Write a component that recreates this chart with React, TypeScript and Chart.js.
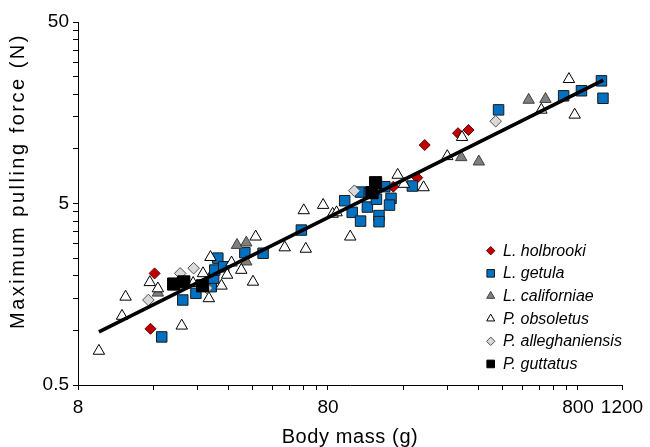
import { useEffect, useRef } from 'react';
import { Chart, registerables } from 'chart.js';

Chart.register(...registerables);

const FONT = "'Liberation Sans', Arial, Helvetica, sans-serif";

const xTitle = 'Body mass (g)';
const yTitle = 'Maximum pulling force (N)';

const seriesNames = ['L. holbrooki', 'L. getula', 'L. californiae', 'P. obsoletus', 'P. alleghaniensis', 'P. guttatus'];

const holbrookiMass = [16.2, 15.6, 146, 182, 195, 265, 292];
const holbrookiForce = [2.06, 1.02, 6.19, 6.94, 10.5, 12.2, 12.7];

const getulaMass = [17.3, 21.0, 23.7, 27.3, 27.9, 28.2, 29.0, 30.6, 37.2, 44.0, 62.6, 93.3, 100, 108, 115, 125, 128, 128, 108, 117, 135, 143, 141, 174, 385, 701, 826, 993, 1007];
const getulaForce = [0.92, 1.47, 1.60, 1.74, 1.94, 2.15, 2.50, 2.24, 2.68, 2.66, 3.57, 5.18, 4.47, 4.00, 4.78, 5.28, 4.29, 3.97, 5.78, 5.69, 6.19, 5.34, 4.90, 6.24, 16.4, 19.6, 20.9, 23.7, 19.0];

const californiaeMass = [16.7, 34.6, 37.7, 37.7, 273, 321, 508, 593];
const californiaeForce = [1.61, 2.95, 3.04, 2.39, 8.98, 8.50, 18.6, 18.8];

const obsoletusMass = [9.70, 12.0, 12.4, 15.5, 16.7, 20.8, 20.6, 23.1, 25.3, 26.7, 27.1, 30.0, 31.6, 32.9, 36.0, 40.1, 41.1, 53.7, 65.2, 64.0, 76.5, 83.5, 86.6, 98.2, 152, 161, 193, 240, 275, 571, 736, 776];
const obsoletusForce = [0.77, 1.20, 1.53, 1.84, 1.70, 1.06, 1.94, 1.82, 2.06, 1.50, 2.53, 1.76, 2.02, 2.36, 2.15, 1.85, 3.28, 2.86, 2.81, 4.58, 4.90, 4.38, 4.46, 3.28, 7.18, 6.40, 6.13, 9.10, 11.6, 16.4, 24.2, 15.4];

const alleghaniensisMass = [15.3, 20.5, 23.2, 26.2, 102, 375];
const alleghaniensisForce = [1.47, 2.06, 2.20, 1.71, 5.88, 14.2];

const guttatusMass = [19.3, 21.2, 25.2, 120, 124];
const guttatusForce = [1.80, 1.85, 1.76, 5.74, 6.51];

const fitMass = [9.7, 1010];
const fitForce = [0.98, 23.9];

const xTickValues = [8, 16, 24, 32, 40, 48, 56, 64, 72, 80, 160, 240, 320, 400, 480, 560, 640, 720, 800, 1200];
const xTickLabels = [8, 80, 800, 1200];
const yTickValues = [0.5, 1, 1.5, 2, 2.5, 3, 3.5, 4, 4.5, 5, 10, 15, 20, 25, 30, 35, 40, 45, 50];
const yTickLabels = [0.5, 5, 50];

const toPoints = (xs: number[], ys: number[]) => xs.map((x, i) => ({ x, y: ys[i] }));

const seriesData = [
  toPoints(holbrookiMass, holbrookiForce),
  toPoints(getulaMass, getulaForce),
  toPoints(californiaeMass, californiaeForce),
  toPoints(obsoletusMass, obsoletusForce),
  toPoints(alleghaniensisMass, alleghaniensisForce),
  toPoints(guttatusMass, guttatusForce),
];

const seriesStyles = [
  { pointStyle: 'rectRot', radius: 5.5, fill: '#c00000', stroke: '#5a0000', order: 6, legendSize: 4.2 },
  { pointStyle: 'rect', radius: 7.4, fill: '#0070c0', stroke: '#1a1a1a', order: 5, legendSize: 3.8 },
  { pointStyle: 'triangle', radius: 6.6, fill: '#7f7f7f', stroke: '#404040', order: 4, legendSize: 4.6 },
  { pointStyle: 'triangle', radius: 6.6, fill: '#ffffff', stroke: '#000000', order: 3, legendSize: 4.6 },
  { pointStyle: 'rectRot', radius: 5.8, fill: '#d9d9d9', stroke: '#4d4d4d', order: 2, legendSize: 4.2 },
  { pointStyle: 'rect', radius: 8.6, fill: '#000000', stroke: '#000000', order: 1, legendSize: 3.8 },
];

function drawMarker(ctx: CanvasRenderingContext2D, style: string, x: number, y: number, s: number, fill: string, stroke: string) {
  ctx.beginPath();
  if (style === 'rectRot') {
    ctx.moveTo(x, y - s);
    ctx.lineTo(x + s, y);
    ctx.lineTo(x, y + s);
    ctx.lineTo(x - s, y);
    ctx.closePath();
  } else if (style === 'rect') {
    ctx.rect(x - s, y - s, 2 * s, 2 * s);
  } else {
    const h = s * 1.5;
    const w = s * 1.732;
    ctx.moveTo(x, y - s);
    ctx.lineTo(x + w / 2, y - s + h);
    ctx.lineTo(x - w / 2, y - s + h);
    ctx.closePath();
  }
  ctx.fillStyle = fill;
  ctx.fill();
  ctx.lineWidth = 1;
  ctx.strokeStyle = stroke;
  ctx.stroke();
}

const extrasPlugin = {
  id: 'extras',
  afterDraw(chart: any) {
    const ctx: any = chart.ctx;
    ctx.save();
    ctx.fillStyle = '#000';
    ctx.font = `20px ${FONT}`;
    ctx.letterSpacing = '2.5px';
    ctx.textAlign = 'center';
    ctx.textBaseline = 'middle';
    ctx.translate(18.5, 181);
    ctx.rotate(-Math.PI / 2);
    ctx.fillText(yTitle, 0, 0);
    ctx.restore();

    ctx.save();
    ctx.font = `italic 16px ${FONT}`;
    ctx.letterSpacing = '0px';
    ctx.textAlign = 'left';
    ctx.textBaseline = 'middle';
    seriesNames.forEach((name, i) => {
      const y = 250.7 + i * 22.65;
      const st = seriesStyles[i];
      drawMarker(ctx, st.pointStyle, 490.7, y, st.legendSize, st.fill, st.stroke);
      ctx.fillStyle = '#000';
      ctx.fillText(name, 503, y + 0.5);
    });
    ctx.restore();

    // x-axis title
    ctx.save();
    ctx.fillStyle = '#000';
    ctx.font = `20px ${FONT}`;
    ctx.letterSpacing = '0.6px';
    ctx.textAlign = 'center';
    ctx.textBaseline = 'middle';
    const area = chart.chartArea;
    ctx.fillText(xTitle, (area.left + area.right) / 2, 437);
    ctx.restore();
  },
};

export default function App() {
  const ref = useRef<HTMLCanvasElement | null>(null);

  useEffect(() => {
    if (!ref.current) return;
    Chart.defaults.font.family = FONT;
    Chart.defaults.color = '#000';

    const datasets: any[] = [
      {
        label: 'fit',
        data: toPoints(fitMass, fitForce),
        showLine: true,
        borderColor: '#000',
        borderWidth: 3.6,
        pointRadius: 0,
        fill: false,
        order: 0,
      },
      ...seriesData.map((d, i) => ({
        label: seriesNames[i],
        data: d,
        showLine: false,
        pointStyle: seriesStyles[i].pointStyle,
        pointRadius: seriesStyles[i].radius,
        pointBackgroundColor: seriesStyles[i].fill,
        pointBorderColor: seriesStyles[i].stroke,
        pointBorderWidth: 1,
        order: seriesStyles[i].order,
      })),
    ];

    const axisCommon = {
      type: 'logarithmic' as const,
      grid: { display: true, drawOnChartArea: false, drawTicks: true, tickLength: 5, color: '#000', lineWidth: 1 },
      border: { display: true, color: '#000', width: 1 },
    };

    const chart = new Chart(ref.current, {
      type: 'scatter',
      data: { datasets },
      plugins: [extrasPlugin],
      options: {
        responsive: false,
        animation: false,
        layout: { padding: { left: 0, top: 22, right: 28, bottom: 0 } },
        plugins: {
          legend: { display: false },
          tooltip: { enabled: false },
        },
        scales: {
          x: {
            ...axisCommon,
            position: 'bottom',
            min: 8,
            max: 1200,
            afterBuildTicks: (scale: any) => {
              scale.ticks = xTickValues.map((v) => ({ value: v }));
            },
            afterFit: (scale: any) => {
              scale.height = 62;
            },
            ticks: {
              autoSkip: false,
              maxRotation: 0,
              padding: 6,
              color: '#000',
              font: { size: 19, family: FONT },
              callback: (v: any) => (xTickLabels.includes(Number(v)) ? String(v) : ''),
            },
          },
          y: {
            ...axisCommon,
            position: 'left',
            min: 0.5,
            max: 50,
            afterBuildTicks: (scale: any) => {
              scale.ticks = yTickValues.map((v) => ({ value: v }));
            },
            afterFit: (scale: any) => {
              scale.width = 78;
            },
            ticks: {
              autoSkip: false,
              padding: 4,
              color: '#000',
              font: { size: 19, family: FONT },
              callback: (v: any) => (yTickLabels.includes(Number(v)) ? String(v) : ''),
            },
          },
        },
      } as any,
    });

    return () => chart.destroy();
  }, []);

  return (
    <div style={{ position: 'absolute', left: 0, top: 0, width: 650, height: 447, background: '#fff' }}>
      <canvas ref={ref} width={650} height={447} style={{ display: 'block', width: 650, height: 447 }} />
    </div>
  );
}
